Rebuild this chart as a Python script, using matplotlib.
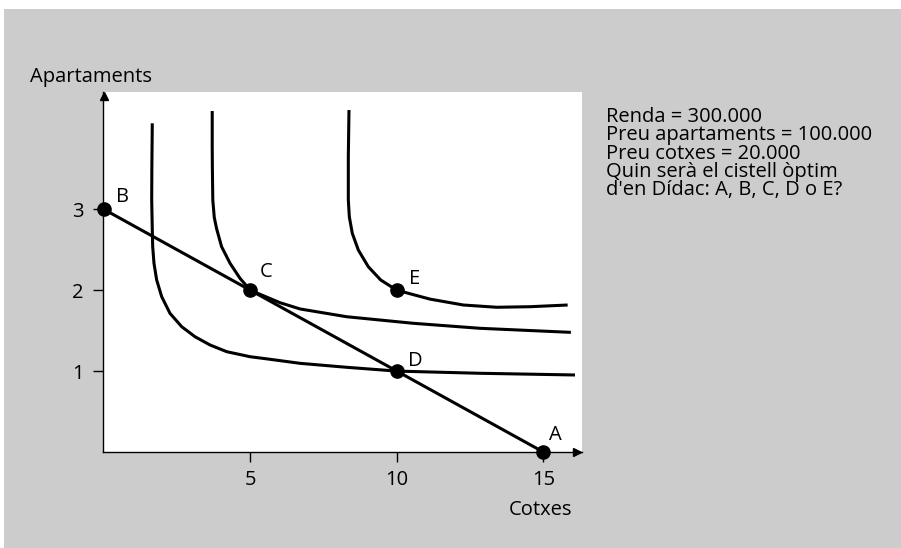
import matplotlib.pyplot as plt
from matplotlib.patches import Rectangle

plt.rcParams['font.family'] = ['Open Sans', 'DejaVu Sans']

# indifference curves (cotxes, apartaments)
curve1_x = [1.655, 1.640, 1.635, 1.655, 1.669, 1.713, 1.805, 1.976, 2.259, 2.659, 3.113, 3.625, 4.195,
            4.990, 5.672, 6.70, 8.29, 10.0, 12.84, 16.08]
curve1_y = [4.063, 3.50, 3.115, 2.744, 2.538, 2.332, 2.126, 1.920, 1.714, 1.549, 1.425, 1.323, 1.240,
            1.178, 1.146, 1.096, 1.047, 1.0, 0.973, 0.952]

curve2_x = [3.70, 3.70, 3.705, 3.72, 3.77, 3.85, 4.02, 4.31, 4.65, 5.0, 6.01, 6.70, 8.29, 10.56, 12.84, 15.94]
curve2_y = [4.215, 3.80, 3.527, 3.115, 2.90, 2.76, 2.538, 2.332, 2.146, 2.0, 1.846, 1.768, 1.672, 1.591, 1.529, 1.479]

curve3_x = [8.368, 8.345, 8.345, 8.379, 8.481, 8.686, 9.027, 9.451, 10.0, 11.13, 12.27, 13.41, 14.55, 15.83]
curve3_y = [4.227, 3.650, 3.115, 2.908, 2.703, 2.497, 2.290, 2.126, 2.0, 1.89, 1.817, 1.789, 1.796, 1.817]

# budget line: renda 300.000, preus 20.000 / 100.000
budget_x = [0, 15]
budget_y = [3, 0]

point_names = ['A', 'B', 'C', 'D', 'E']
point_x = [15, 0, 5, 10, 10]
point_y = [0, 3, 2, 1, 2]

x_ticks = [5, 10, 15]
y_ticks = [1, 2, 3]

info = ("Renda = 300.000\n"
        "Preu apartaments = 100.000\n"
        "Preu cotxes = 20.000\n"
        "Quin serà el cistell òptim\n"
        "d'en Dídac: A, B, C, D o E?")

fs = 14.5

fig = plt.figure(figsize=(9.01, 5.48), dpi=100, facecolor='white')
fig.patches.append(Rectangle((4 / 901, 0), 1, 1 - 9 / 548, transform=fig.transFigure,
                             facecolor='#cccccc', edgecolor='none', zorder=-5))

ax = fig.add_axes([103 / 901, 96 / 548, 479 / 901, 360 / 548])
ax.set_facecolor('white')
ax.set_xlim(-0.027, 16.32)
ax.set_ylim(0, 4.45)

for s in ['top', 'right']:
    ax.spines[s].set_visible(False)
for s in ['left', 'bottom']:
    ax.spines[s].set_linewidth(1.0)
    ax.spines[s].set_color('black')

lw = 2.2
ax.plot(curve1_x, curve1_y, color='black', lw=lw, solid_capstyle='butt', solid_joinstyle='round')
ax.plot(curve2_x, curve2_y, color='black', lw=lw, solid_capstyle='butt', solid_joinstyle='round')
ax.plot(curve3_x, curve3_y, color='black', lw=lw, solid_capstyle='butt', solid_joinstyle='round')
ax.plot(budget_x, budget_y, color='black', lw=lw, clip_on=False)
ax.plot(point_x, point_y, 'o', color='black', ms=9.5, clip_on=False, zorder=5)

# label offsets in pixels (left edge, baseline) from each point
offsets = {'A': (6, 12), 'B': (12, 7), 'C': (9, 13), 'D': (11, 5), 'E': (12, 6)}
for n, x, y in zip(point_names, point_x, point_y):
    ax.annotate(n, (x, y), xytext=offsets[n], textcoords='offset pixels',
                fontsize=fs, ha='left', va='baseline')

# axis arrows
ax.plot([0], [0.989], '^', color='black', ms=5.5, transform=ax.get_xaxis_transform(), clip_on=False)
ax.plot([0.9896], [0], '>', color='black', ms=5.5, transform=ax.get_yaxis_transform(), clip_on=False)

ax.set_xticks(x_ticks)
ax.set_yticks(y_ticks)
ax.tick_params(direction='out', length=7.2, width=1, labelsize=fs)
ax.tick_params(axis='x', pad=5.5)
ax.tick_params(axis='y', pad=6.7)

fig.text(30 / 901, 1 - 82 / 548, 'Apartaments', fontsize=fs, ha='left', va='baseline')
fig.text(572 / 901, 1 - 515 / 548, 'Cotxes', fontsize=fs, ha='right', va='baseline')
fig.text(606 / 901, 1 - 107 / 548, info, fontsize=fs, ha='left', va='top', linespacing=0.885)

fig.savefig('out.png', dpi=100, facecolor=fig.get_facecolor())
